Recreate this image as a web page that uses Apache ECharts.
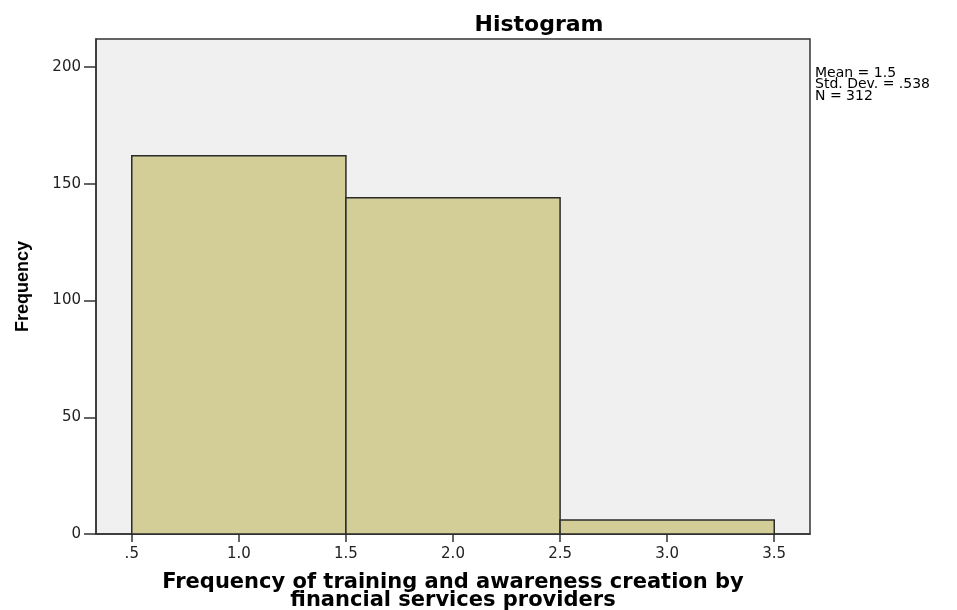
<!DOCTYPE html>
<html><head><meta charset="utf-8">
<script src="https://cdn.jsdelivr.net/npm/echarts@6/dist/echarts.min.js"></script>
<style>html,body{margin:0;padding:0;background:#fff}#c{width:957px;height:610px}</style>
</head><body><div id="c"></div>
<script>
const binStarts = [0.5, 1.5, 2.5];
const binEnds = [1.5, 2.5, 3.5];
const counts = [162, 144, 6];
const xTicks = [0.5, 1.0, 1.5, 2.0, 2.5, 3.0, 3.5];
const yTicks = [0, 50, 100, 150, 200];
const statsLines = ['Mean = 1.5', 'Std. Dev. = .538', 'N = 312'];
const titleText = 'Histogram';
const xName = 'Frequency of training and awareness creation by\nfinancial services providers';
const yName = 'Frequency';

const data = binStarts.map((s, i) => [s, binEnds[i], counts[i]]);
const chart = echarts.init(document.getElementById('c'), null, {renderer: 'canvas'});
chart.setOption({
  animation: false,
  backgroundColor: '#ffffff',
  title: {
    text: titleText, left: 534, top: 9, textAlign: 'center',
    textStyle: {fontFamily: 'DejaVu Sans', fontWeight: 'bold', fontSize: 22, color: '#000'}
  },
  grid: {
    left: 96, right: 147, top: 39, bottom: 76, show: true,
    outerBoundsMode: 'none', containLabel: false,
    backgroundColor: '#f0f0f0', borderColor: '#333', borderWidth: 1.5
  },
  xAxis: {
    type: 'value', min: 0.333, max: 3.667,
    axisLine: {show: true, lineStyle: {color: '#333', width: 1.5}},
    axisTick: {show: true, length: 8, customValues: xTicks, lineStyle: {color: '#333', width: 1.5}},
    axisLabel: {customValues: xTicks, margin: 13, fontFamily: 'DejaVu Sans', fontSize: 15, color: '#222',
      formatter: v => (v === 0.5 ? '.5' : Number(v).toFixed(1))},
    splitLine: {show: false},
    name: xName, nameLocation: 'middle', nameGap: 40,
    nameTextStyle: {fontFamily: 'DejaVu Sans', fontWeight: 'bold', fontSize: 21, lineHeight: 18, color: '#000'}
  },
  yAxis: {
    type: 'value', min: 0, max: 212,
    axisLine: {show: true, lineStyle: {color: '#333', width: 1.5}},
    axisTick: {show: true, length: 12, customValues: yTicks, lineStyle: {color: '#333', width: 1.5}},
    axisLabel: {customValues: yTicks, margin: 15, fontFamily: 'DejaVu Sans', fontSize: 15, color: '#222'},
    splitLine: {show: false},
    name: yName, nameLocation: 'middle', nameGap: 64,
    nameTextStyle: {fontFamily: 'Liberation Sans', fontWeight: 'bold', fontSize: 18, color: '#000'}
  },
  graphic: [{
    type: 'text', left: 815, top: 66,
    style: {text: statsLines.join('\n'), fontFamily: 'DejaVu Sans', fontSize: 14, lineHeight: 11.8, fill: '#000'}
  }],
  series: [{
    type: 'custom',
    data: data,
    encode: {x: [0, 1], y: 2},
    renderItem: function (params, api) {
      const p0 = api.coord([api.value(0), api.value(2)]);
      const p1 = api.coord([api.value(1), 0]);
      return {
        type: 'rect',
        shape: {x: p0[0], y: p0[1], width: p1[0] - p0[0], height: p1[1] - p0[1]},
        style: {fill: '#d3ce97', stroke: '#2b2b2b', lineWidth: 1.5}
      };
    }
  }]
});
</script></body></html>
